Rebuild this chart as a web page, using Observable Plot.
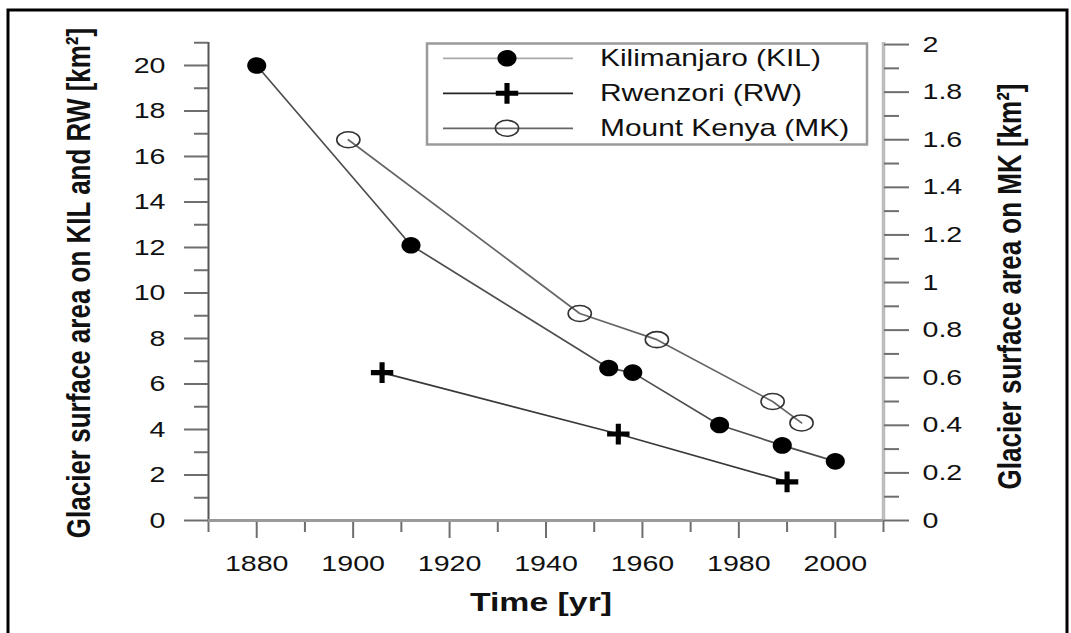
<!DOCTYPE html>
<html>
<head>
<meta charset="utf-8">
<script src="https://cdn.jsdelivr.net/npm/d3@7"></script>
<script src="https://cdn.jsdelivr.net/npm/@observablehq/plot@0.6"></script>
<style>
  html, body { margin: 0; padding: 0; background: #fff; }
  #chart { width: 1071px; height: 633px; }
</style>
</head>
<body>
<div id="chart"></div>
<script>
// Retreat of glacier surface area on Kilimanjaro, Rwenzori and Mount Kenya.

// Kilimanjaro (left axis, km²)
const kilYears = [1880, 1912, 1953, 1958, 1976, 1989, 2000];
const kilArea = [20, 12.1, 6.7, 6.5, 4.2, 3.3, 2.6];

// Rwenzori (left axis, km²)
const rwYears = [1906, 1955, 1990];
const rwArea = [6.5, 3.8, 1.7];

// Mount Kenya (right axis, km²)
const mkYears = [1899, 1947, 1963, 1987, 1993];
const mkArea = [1.6, 0.87, 0.76, 0.5, 0.41];

const seriesNames = ["Kilimanjaro (KIL)", "Rwenzori (RW)", "Mount Kenya (MK)"];

// Axis ticks
const xTicks = [1880, 1900, 1920, 1940, 1960, 1980, 2000];
const xMinorTicks = [1870, 1890, 1910, 1930, 1950, 1970, 1990, 2010];
const leftTicks = [0, 2, 4, 6, 8, 10, 12, 14, 16, 18, 20];
const leftMinorTicks = [1, 3, 5, 7, 9, 11, 13, 15, 17, 19, 21];
const rightTicks = [0, 0.2, 0.4, 0.6, 0.8, 1, 1.2, 1.4, 1.6, 1.8, 2];
const rightMinorTicks = [0.1, 0.3, 0.5, 0.7, 0.9, 1.1, 1.3, 1.5, 1.7, 1.9];

const xTitle = "Time [yr]";
const leftTitle = "Glacier surface area on KIL and RW [km²]";
const rightTitle = "Glacier surface area on MK [km²]";

const FONT = '"Liberation Sans", Arial, Helvetica, sans-serif';
const STRETCH = 1.3;             // wide lettering of the figure
const MK_FACTOR = 20.92 / 2;     // 2 km² on the right axis sits at 20.92 on the left axis

// Slightly wide ellipse marker
function ellipseSymbol(aspect) {
  return {
    draw(context, size) {
      const ry = Math.sqrt(size / Math.PI), rx = ry * aspect, k = 0.5523;
      context.moveTo(rx, 0);
      context.bezierCurveTo(rx, k * ry, k * rx, ry, 0, ry);
      context.bezierCurveTo(-k * rx, ry, -rx, k * ry, -rx, 0);
      context.bezierCurveTo(-rx, -k * ry, -k * rx, -ry, 0, -ry);
      context.bezierCurveTo(k * rx, -ry, rx, -k * ry, rx, 0);
      context.closePath();
    }
  };
}

// Heavy plus marker
const plusSymbol = {
  draw(context, size) {
    const r = Math.sqrt(size / Math.PI);
    const h = r * 1.4, v = r * 1.3, t = r * 0.32;
    context.moveTo(-h, -t);
    context.lineTo(-t, -t);
    context.lineTo(-t, -v);
    context.lineTo(t, -v);
    context.lineTo(t, -t);
    context.lineTo(h, -t);
    context.lineTo(h, t);
    context.lineTo(t, t);
    context.lineTo(t, v);
    context.lineTo(-t, v);
    context.lineTo(-t, t);
    context.lineTo(-h, t);
    context.closePath();
  }
};

const kil = kilYears.map((year, i) => ({year, area: kilArea[i]}));
const rw = rwYears.map((year, i) => ({year, area: rwArea[i]}));
const mk = mkYears.map((year, i) => ({year, area: mkArea[i], scaled: mkArea[i] * MK_FACTOR}));

const series = [
  {name: seriesNames[0], symbol: ellipseSymbol(1.15), r: 8.3, fill: "#000", stroke: "none", legendLine: "#aaa", line: "#4d4d4d"},
  {name: seriesNames[1], symbol: plusSymbol, r: 8, fill: "#000", stroke: "none", legendLine: "#222", line: "#383838"},
  {name: seriesNames[2], symbol: ellipseSymbol(1.45), r: 8, fill: "none", stroke: "#333", legendLine: "#666", line: "#666"}
];

const tickStyle = {stroke: "#6e6e6e", strokeWidth: 2, label: null};
const titleStyle = {rotate: -90, textAnchor: "middle", lineAnchor: "middle", fontSize: 26, fontWeight: "bold", fill: "#111"};

const plot = Plot.plot({
  width: 1071,
  height: 633,
  marginLeft: 208,
  marginRight: 188,
  marginTop: 42,
  marginBottom: 113,
  style: {fontFamily: FONT, color: "#111", background: "white", overflow: "visible"},
  x: {domain: [1870, 2010]},
  y: {domain: [0, 21.01]},
  marks: [
    // axis lines
    Plot.ruleX([1870], {stroke: "#555", strokeWidth: 2}),
    Plot.ruleX([2010], {stroke: "#bdbdbd", strokeWidth: 3.5}),

    // time axis
    Plot.axisX(xMinorTicks, {...tickStyle, anchor: "bottom", tickSize: 12, tickFormat: () => ""}),
    Plot.axisX(xTicks, {...tickStyle, anchor: "bottom", tickSize: 18, tickPadding: 17, fontSize: 22, fill: "#111", tickFormat: d => String(d)}),

    // left axis (KIL, RW)
    Plot.axisY(leftMinorTicks, {...tickStyle, anchor: "left", tickSize: 14, tickFormat: () => ""}),
    Plot.axisY(leftTicks, {...tickStyle, anchor: "left", tickSize: 24, tickPadding: 19, fontSize: 22, fill: "#111", tickFormat: d => String(d)}),

    // right axis (MK)
    Plot.axisY(rightMinorTicks.map(v => v * MK_FACTOR), {...tickStyle, anchor: "right", tickSize: 15, tickFormat: () => ""}),
    Plot.axisY(rightTicks.map(v => v * MK_FACTOR), {...tickStyle, anchor: "right", tickSize: 25, tickPadding: 14, fontSize: 22, fill: "#111",
      tickFormat: d => String(Math.round(d / MK_FACTOR * 10) / 10)}),

    Plot.ruleY([0], {stroke: "#9a9a9a", strokeWidth: 3}),

    // series
    Plot.line(kil, {x: "year", y: "area", stroke: series[0].line, strokeWidth: 1.7}),
    Plot.line(rw, {x: "year", y: "area", stroke: series[1].line, strokeWidth: 1.7}),
    Plot.line(mk, {x: "year", y: "scaled", stroke: series[2].line, strokeWidth: 1.7}),
    Plot.dot(kil, {x: "year", y: "area", symbol: series[0].symbol, r: series[0].r, fill: series[0].fill, stroke: series[0].stroke}),
    Plot.dot(rw, {x: "year", y: "area", symbol: series[1].symbol, r: series[1].r, fill: series[1].fill, stroke: series[1].stroke}),
    Plot.dot(mk, {x: "year", y: "scaled", symbol: series[2].symbol, r: series[2].r, fill: series[2].fill, stroke: series[2].stroke, strokeWidth: 1.6}),

    // axis titles
    Plot.text([leftTitle], {...titleStyle, frameAnchor: "left", dx: -129, dy: 1.5}),
    Plot.text([rightTitle], {...titleStyle, frameAnchor: "right", dx: 127, dy: 5}),
    Plot.text([xTitle], {frameAnchor: "bottom", textAnchor: "middle", lineAnchor: "middle", dx: -5, dy: 82, fontSize: 26, fontWeight: "bold", fill: "#111"})
  ]
});

// widen the lettering around each text anchor
d3.select(plot).selectAll("text").each(function () {
  const t = this.getAttribute("transform");
  if (t && /^translate\(/.test(t)) {
    this.setAttribute("transform", t.replace(/^(translate\([^)]*\))/, `$1 scale(${STRETCH},1)`));
  }
});

// legend box
const svg = d3.select(plot);
const legend = svg.append("g").attr("font-family", FONT).attr("text-anchor", "start");
legend.append("rect")
  .attr("x", 427).attr("y", 43.5).attr("width", 440).attr("height", 101)
  .attr("fill", "white").attr("stroke", "#9a9a9a").attr("stroke-width", 2.5);
series.forEach((s, i) => {
  const cy = 58.3 + i * 35;
  legend.append("line")
    .attr("x1", 443).attr("x2", 573).attr("y1", cy).attr("y2", cy)
    .attr("stroke", s.legendLine).attr("stroke-width", 1.7);
  const p = d3.path();
  s.symbol.draw(p, s.r * s.r * Math.PI);
  legend.append("path")
    .attr("transform", `translate(507,${cy})`)
    .attr("d", p.toString())
    .attr("fill", s.fill).attr("stroke", s.stroke).attr("stroke-width", 1.6);
  legend.append("text")
    .attr("transform", `translate(600,${cy}) scale(${STRETCH},1)`)
    .attr("text-anchor", "start")
    .attr("dy", "0.35em").attr("font-size", 23).attr("fill", "#111")
    .text(s.name);
});

// outer frame
svg.append("path")
  .attr("d", "M8,640V10H1067V640")
  .attr("fill", "none").attr("stroke", "#000").attr("stroke-width", 3);

document.getElementById("chart").appendChild(plot);
</script>
</body>
</html>
